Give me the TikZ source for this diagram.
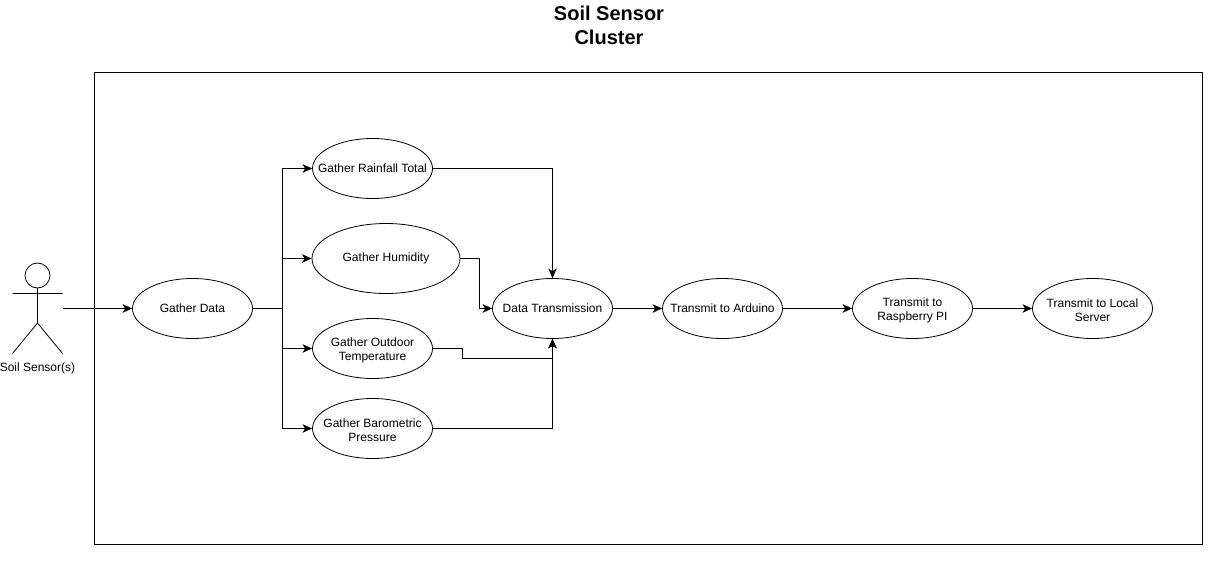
\documentclass[tikz,border=0pt]{standalone}
\usepackage{fontspec}
\setmainfont{Liberation Sans}
\usetikzlibrary{arrows.meta,shapes.geometric}
\newcommand{\topgap}{\rule{0pt}{11.5pt}}
\tikzset{
	usecase/.style={draw, ellipse, minimum width=120pt, minimum height=60pt, inner xsep=-30pt, inner ysep=0pt, align=center},
	link/.style={-{Stealth[length=9.5pt,width=8.5pt,inset=2.5pt]}},
}
\begin{document}
\begin{tikzpicture}[x=1pt, y=-1pt, font=\fontsize{12}{14}\selectfont, line join=miter, line width=0.8pt]
	\useasboundingbox (0,0) rectangle (1226,567);
	\fill[white] (0,0) rectangle (1226,567);
	\draw (94.5,72.5) rectangle (1202.5,544.5);
	\path
	(609,25) node[align=center, font=\fontsize{20}{24}\selectfont\bfseries] (title) {Soil Sensor\\Cluster}
	(37.5,368) node (sensorlabel) {Soil Sensor(s)}

	(192.5,308.5) node[usecase] (data) {Gather Data}
	(372.5,168.5) node[usecase] (rain) {Gather Rainfall Total}
	(386,258.5) node[usecase, minimum width=148pt, minimum height=70pt] (humidity) {Gather Humidity}
	(372.5,348.5) node[usecase] (outdoor) {\topgap Gather Outdoor\\Temperature}
	(372.5,428.5) node[usecase] (baro) {\topgap Gather Barometric\\Pressure}
	(552.5,308.5) node[usecase] (trans) {Data Transmission}
	(722.5,308.5) node[usecase] (arduino) {Transmit to Arduino}
	(912.5,308.5) node[usecase] (pi) {\topgap Transmit to\\Raspberry PI}
	(1092.5,308.5) node[usecase] (server) {\topgap Transmit to Local\\Server};

	% actor
	\draw (37.5,275.5) circle (12.5pt);
	\draw (37.5,288)--(37.5,323) (12.5,293.5)--(62.5,293.5) (12.5,353.5)--(37.5,323)--(62.5,353.5);
	\coordinate (actor) at (62.5,308.5);
	\coordinate (trunk) at (282.5,308.5);

	\draw[link] (actor)--(data);
	\draw[link] (data)--(trunk)|-(rain);
	\draw[link] (trunk)|-(humidity.west);
	\draw[link] (trunk)|-(outdoor);
	\draw[link] (trunk)|-(baro);
	\draw[link] (rain)-|(trans);
	\draw[link] (humidity)-|(479.5,308.5)--(trans);
	\draw[link] (outdoor)-|(462.5,358.5)-|(trans);
	\draw[link] (baro)-|(trans);
	\draw[link] (trans)--(arduino);
	\draw[link] (arduino)--(pi);
	\draw[link] (pi)--(server);
\end{tikzpicture}
\end{document}
